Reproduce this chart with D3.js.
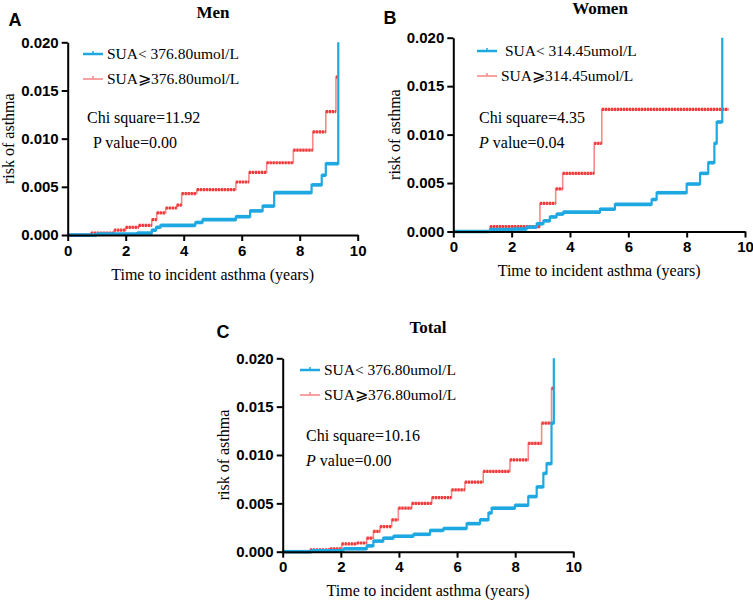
<!DOCTYPE html>
<html>
<head>
<meta charset="utf-8">
<script src="https://cdn.jsdelivr.net/npm/d3@7"></script>
<style>
  body { margin: 0; background: #fff; }
  svg { display: block; }
</style>
</head>
<body>
<script>
// step points: value r[i] holds from t[i] until t[i+1]
const menHighT = [0, 0.8, 1.6, 2.0, 2.45, 2.9, 3.07, 3.38, 3.76, 3.93, 4.45, 5.8, 6.25, 6.86, 7.78, 8.45, 8.9, 9.25, 9.3];
const menHighR = [0, 0.0002, 0.0005, 0.0008, 0.001, 0.0016, 0.0023, 0.0028, 0.0031, 0.0043, 0.0047, 0.0055, 0.0065, 0.0075, 0.0088, 0.0107, 0.0128, 0.0164, 0.0164];
const menLowT = [0, 1.0, 2.4, 2.9, 3.05, 3.2, 4.4, 4.65, 5.8, 6.29, 6.72, 7.12, 8.41, 8.76, 8.9, 9.33];
const menLowR = [0, 0.0001, 0.0002, 0.0005, 0.0008, 0.001, 0.0013, 0.0016, 0.0019, 0.0025, 0.003, 0.0044, 0.0052, 0.0062, 0.0074, 0.020];

const womenHighT = [0, 1.26, 2.97, 3.51, 3.75, 4.83, 5.09, 9.43];
const womenHighR = [0, 0.0005, 0.0029, 0.0044, 0.006, 0.0091, 0.0126, 0.0126];
const womenLowT = [0, 1.26, 2.06, 2.51, 2.86, 3.09, 3.31, 3.54, 3.77, 5.03, 5.54, 6.8, 6.97, 8.0, 8.46, 8.74, 8.95, 9.03, 9.22];
const womenLowR = [0, 0.0002, 0.00025, 0.00045, 0.0008, 0.0011, 0.0015, 0.0018, 0.002, 0.0023, 0.0028, 0.0033, 0.004, 0.0049, 0.006, 0.0071, 0.0091, 0.0113, 0.020];

const totalHighT = [0, 0.94, 1.63, 2.03, 2.55, 2.89, 3.12, 3.35, 3.75, 3.98, 4.44, 5.13, 5.81, 6.27, 6.9, 7.82, 8.45, 8.91, 9.25, 9.31];
const totalHighR = [0, 0.0002, 0.0003, 0.0008, 0.0009, 0.0014, 0.0021, 0.0026, 0.0033, 0.0045, 0.005, 0.0056, 0.0064, 0.0072, 0.0083, 0.0095, 0.0112, 0.0133, 0.0169, 0.0169];
const totalLowT = [0, 1.0, 2.09, 2.89, 3.12, 3.46, 3.81, 4.5, 5.07, 5.53, 6.33, 6.79, 7.08, 7.19, 7.99, 8.45, 8.74, 8.97, 9.08, 9.25, 9.33];
const totalLowR = [0, 0.0001, 0.0003, 0.0006, 0.0011, 0.0014, 0.0016, 0.0018, 0.0022, 0.0024, 0.0029, 0.0033, 0.004, 0.0045, 0.0048, 0.0057, 0.0067, 0.0081, 0.0091, 0.0133, 0.020];

const xTicks = [0, 2, 4, 6, 8, 10];
const yTicks = [0, 0.005, 0.01, 0.015, 0.02];

const panelLetters = ['A', 'B', 'C'];
const panelTitles = ['Men', 'Women', 'Total'];
const lowLabels = ['SUA< 376.80umol/L', ' SUA< 314.45umol/L', 'SUA< 376.80umol/L'];
const highLabels = ['SUA\u2A7E376.80umol/L', 'SUA\u2A7E314.45umol/L', 'SUA\u2A7E376.80umol/L'];
const chiValues = ['11.92', '4.35', '10.16'];
const pValues = ['0.00', '0.04', '0.00'];
const pItalic = [false, true, true];

const BLUE = '#1ea8e2';
const RED = '#f03a3c';
const RED_LIGHT = '#f68a8a';
const serif = '"Liberation Serif", "Times New Roman", serif';
const sans = '"Liberation Sans", Arial, sans-serif';

const svg = d3.select('body').append('svg')
  .attr('width', 753)
  .attr('height', 604);

// placement of each panel (pixel frame only)
const frames = [
  { x0: 67.7, x1: 357.7, y0: 235, y1: 42.3, letter: [15, 20], title: [213, 12], leg: [83, 54], stat: [87, 117, 93] },
  { x0: 453.3, x1: 745, y0: 231.5, y1: 37.7, letter: [390, 18], title: [600, 8], leg: [477, 51], stat: [479, 117, 479] },
  { x0: 282.7, x1: 573.3, y0: 551.7, y1: 358.3, letter: [223, 332], title: [428, 327], leg: [300, 370], stat: [306, 435, 306] }
];

const series = [
  [[menLowT, menLowR], [menHighT, menHighR]],
  [[womenLowT, womenLowR], [womenHighT, womenHighR]],
  [[totalLowT, totalLowR], [totalHighT, totalHighR]]
];

function drawCurve(g, x, y, ts, rs, color, riserColor, riserWidth, barWidth, dash) {
  const pts = ts.map((t, i) => [t, rs[i]]);
  const line = d3.line()
    .x(d => x(d[0]))
    .y(d => y(d[1]))
    .curve(d3.curveStepAfter);
  g.append('path')
    .attr('d', line(pts))
    .attr('fill', 'none')
    .attr('stroke', riserColor)
    .attr('stroke-width', riserWidth);
  // thick flat parts (censor marks packed together)
  const segs = d3.pairs(pts);
  g.append('g').selectAll('line')
    .data(segs.filter(s => s[1][0] > s[0][0]))
    .join('line')
    .attr('x1', d => x(d[0][0]))
    .attr('x2', d => x(d[1][0]))
    .attr('y1', d => y(d[0][1]))
    .attr('y2', d => y(d[0][1]))
    .attr('stroke', color)
    .attr('stroke-width', barWidth)
    .attr('stroke-dasharray', dash);
}

frames.forEach((f, i) => {
  const x = d3.scaleLinear().domain([0, 10]).range([f.x0, f.x1]);
  const y = d3.scaleLinear().domain([0, 0.02]).range([f.y0, f.y1]);
  const g = svg.append('g');

  // curves: red below, blue on top
  const [low, high] = series[i];
  drawCurve(g, x, y, high[0], high[1], RED, RED_LIGHT, 1.6, 3.2, '2.2 0.8');
  drawCurve(g, x, y, low[0], low[1], BLUE, BLUE, 2.2, 3.6, null);

  // axes
  const xAxis = g.append('g')
    .attr('transform', `translate(0,${f.y0})`)
    .call(d3.axisBottom(x).tickValues(xTicks).tickSize(6).tickSizeOuter(0).tickPadding(4));
  const yAxis = g.append('g')
    .attr('transform', `translate(${f.x0},0)`)
    .call(d3.axisLeft(y).tickValues(yTicks).tickFormat(d3.format('.3f')).tickSize(6).tickSizeOuter(0).tickPadding(3));
  [xAxis, yAxis].forEach(a => {
    a.selectAll('path, line').attr('stroke', '#000').attr('stroke-width', 2);
    a.selectAll('text')
      .attr('fill', '#000')
      .style('font-family', sans)
      .style('font-weight', 'bold')
      .style('font-size', '15px');
  });

  // axis titles
  g.append('text')
    .attr('x', (f.x0 + f.x1) / 2)
    .attr('y', f.y0 + 39)
    .attr('text-anchor', 'middle')
    .attr('dy', '0.35em')
    .style('font-family', serif)
    .style('font-size', '16px')
    .text('Time to incident asthma (years)');
  g.append('text')
    .attr('transform', `translate(${f.x0 - 59},${(f.y0 + f.y1) / 2}) rotate(-90)`)
    .attr('text-anchor', 'middle')
    .attr('dy', '0.35em')
    .style('font-family', serif)
    .style('font-size', '16px')
    .text('risk of asthma');

  // panel letter + title
  svg.append('text')
    .attr('x', f.letter[0]).attr('y', f.letter[1])
    .attr('text-anchor', 'middle').attr('dy', '0.35em')
    .style('font-family', sans).style('font-weight', 'bold').style('font-size', '18px')
    .text(panelLetters[i]);
  svg.append('text')
    .attr('x', f.title[0]).attr('y', f.title[1])
    .attr('text-anchor', 'middle').attr('dy', '0.35em')
    .style('font-family', serif).style('font-weight', 'bold').style('font-size', '17px')
    .text(panelTitles[i]);

  // legend
  const legend = [[lowLabels[i], BLUE], [highLabels[i], RED_LIGHT]];
  legend.forEach((d, k) => {
    const ly = f.leg[1] + k * 25;
    const lg = svg.append('g');
    lg.append('line')
      .attr('x1', f.leg[0]).attr('x2', f.leg[0] + 20)
      .attr('y1', ly).attr('y2', ly)
      .attr('stroke', d[1]).attr('stroke-width', k === 0 ? 2.5 : 1.6);
    lg.append('line')
      .attr('x1', f.leg[0] + 10).attr('x2', f.leg[0] + 10)
      .attr('y1', ly - 3).attr('y2', ly)
      .attr('stroke', d[1]).attr('stroke-width', 1.5);
    lg.append('text')
      .attr('x', f.leg[0] + 24).attr('y', ly)
      .attr('dy', '0.35em')
      .attr('xml:space', 'preserve')
      .style('white-space', 'pre')
      .style('font-family', serif).style('font-size', '15.5px')
      .text(d[0]);
  });

  // statistics
  svg.append('text')
    .attr('x', f.stat[0]).attr('y', f.stat[1]).attr('dy', '0.35em')
    .style('font-family', serif).style('font-size', '16px')
    .text('Chi square=' + chiValues[i]);
  const pt = svg.append('text')
    .attr('x', f.stat[2]).attr('y', f.stat[1] + 25).attr('dy', '0.35em')
    .style('font-family', serif).style('font-size', '16px');
  pt.append('tspan').style('font-style', pItalic[i] ? 'italic' : 'normal').text('P');
  pt.append('tspan').text(' value=' + pValues[i]);
});
</script>
</body>
</html>
